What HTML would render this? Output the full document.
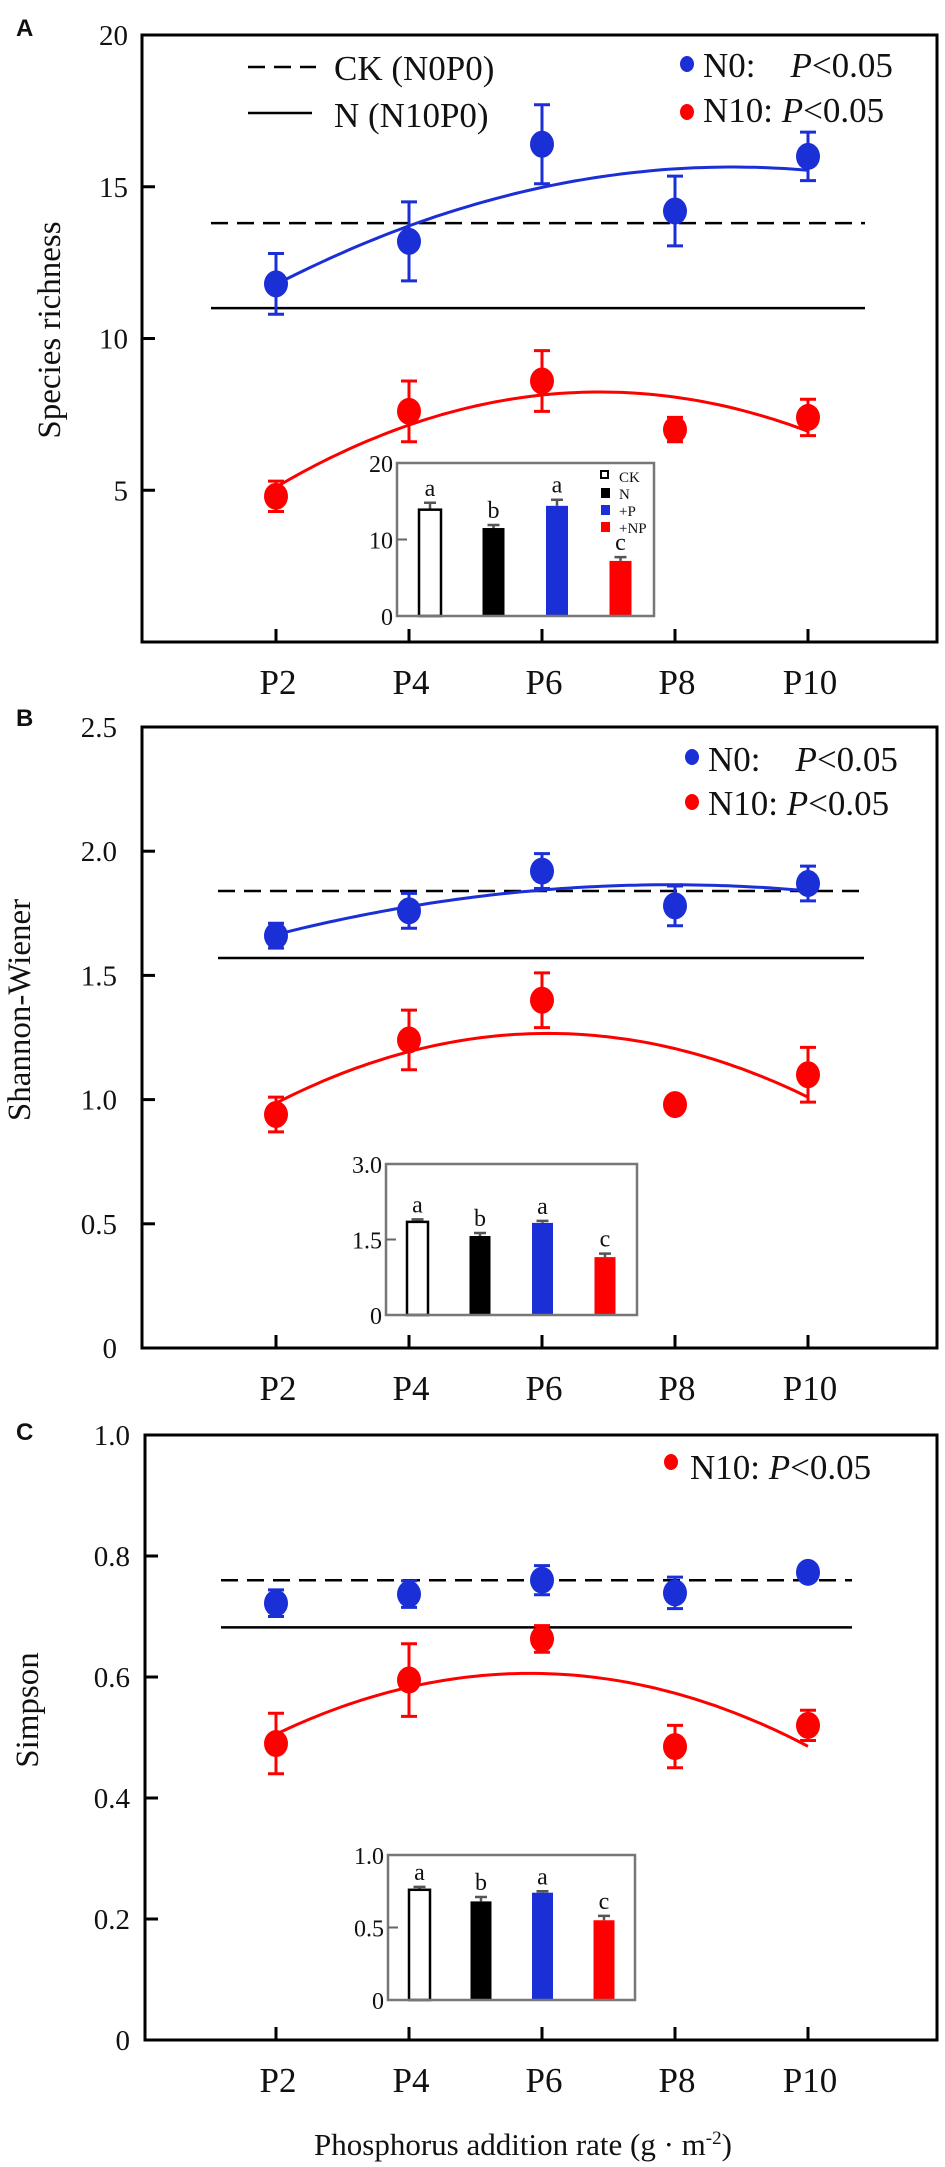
<!DOCTYPE html>
<html><head><meta charset="utf-8">
<style>
html,body{margin:0;padding:0;background:#fff;}
svg{display:block;}
text{font-family:"Liberation Serif",serif;fill:#111;}
.pl{font-family:"Liberation Sans",sans-serif;font-weight:bold;font-size:24px;}
</style></head>
<body>
<svg id="fig" width="945" height="2167" viewBox="0 0 945 2167" xmlns="http://www.w3.org/2000/svg"></svg>
<script>
// ---- shared categories ----
const categories = ["P2","P4","P6","P8","P10"];
const insetCats = ["CK","N","+P","+NP"];
const insetColors = ["#fff","#000","#1a2fd6","#ff0000"];

// ---- Panel A: species richness ----
const aYTicks = [5,10,15,20];
const aBlue = [11.8,13.2,16.4,14.2,16.0];
const aBlueErr = [1.0,1.3,1.3,1.15,0.8];
const aRed = [4.8,7.6,8.6,7.0,7.4];
const aRedErr = [0.5,1.0,1.0,0.4,0.6];
const aCK = 13.8, aN = 11.0;
const aInset = [13.9,11.5,14.4,7.2];
const aInsetErr = [0.9,0.4,0.8,0.5];
const aInsetLetters = ["a","b","a","c"];
const aInsetTicks = [0,10,20];

// ---- Panel B: Shannon-Wiener ----
const bYTicks = ["0","0.5","1.0","1.5","2.0","2.5"];
const bBlue = [1.66,1.76,1.92,1.78,1.87];
const bBlueErr = [0.05,0.07,0.07,0.08,0.07];
const bRed = [0.94,1.24,1.40,0.98,1.10];
const bRedErr = [0.07,0.12,0.11,0.0,0.11];
const bCK = 1.84, bN = 1.57;
const bInset = [1.85,1.57,1.83,1.15];
const bInsetErr = [0.05,0.06,0.04,0.07];
const bInsetLetters = ["a","b","a","c"];
const bInsetTicks = ["0","1.5","3.0"];

// ---- Panel C: Simpson ----
const cYTicks = ["0","0.2","0.4","0.6","0.8","1.0"];
const cBlue = [0.722,0.737,0.760,0.739,0.773];
const cBlueErr = [0.022,0.022,0.024,0.026,0.006];
const cRed = [0.490,0.595,0.663,0.485,0.520];
const cRedErr = [0.050,0.060,0.022,0.035,0.025];
const cCK = 0.76, cN = 0.682;
const cInset = [0.76,0.68,0.74,0.55];
const cInsetErr = [0.02,0.03,0.01,0.03];
const cInsetLetters = ["a","b","a","c"];
const cInsetTicks = ["0","0.5","1.0"];

const NS="http://www.w3.org/2000/svg";
const svg=document.getElementById('fig');
function mk(tag,attrs,parent,txt){const e=document.createElementNS(NS,tag);for(const k in attrs)e.setAttribute(k,attrs[k]);if(txt!==undefined)e.textContent=txt;(parent||svg).appendChild(e);return e;}
const BLUE="#1a2fd6", RED="#ff0000";

function quadFit(ys){ // fit y = a + b t + c t^2 with t=-2..2
  const t=[-2,-1,0,1,2];const n=5;const m=ys.reduce((s,v)=>s+v,0)/n;
  let sty=0,sqy=0;for(let i=0;i<n;i++){sty+=t[i]*ys[i];sqy+=(t[i]*t[i]-2)*ys[i];}
  const b=sty/10,c=sqy/14,a=m-2*c;return tt=>a+b*tt+c*tt*tt;
}

function panel(o){
  const g=mk('g',{},svg);
  
  
  const x=i=>276+133*i;
  const y=v=>o.bottom-(v-o.ymin)/(o.ymax-o.ymin)*(o.bottom-o.top);
  const pl=mk('text',{x:o.letterX,y:o.letterY,class:'pl'},g,o.letter);
  
  
  const fr=mk('rect',{x:o.left,y:o.top,width:o.right-o.left,height:o.bottom-o.top,fill:'none',stroke:'#000','stroke-width':3},g);
  
  
  o.yTicks.forEach(t=>{
    const v=parseFloat(t),yy=y(v);
    const tk=mk('line',{x1:o.left,x2:o.left+13,y1:yy,y2:yy,stroke:'#000','stroke-width':3},g);
    
    
    const tl=mk('text',{x:o.tickRight,y:yy+10,'text-anchor':'end','font-size':29},g,String(t));
    
    
  });
  categories.forEach((c,i)=>{
    const tk=mk('line',{x1:x(i),x2:x(i),y1:o.bottom,y2:o.bottom-13,stroke:'#000','stroke-width':3},g);
    
    
    const tl=mk('text',{x:x(i)+2,y:o.bottom+52,'text-anchor':'middle','font-size':35},g,c);
    
    
  });
  const yt=mk('text',{x:o.ytX,y:o.ytY,'text-anchor':'middle','font-size':33,transform:`rotate(-90 ${o.ytX} ${o.ytY})`},g,o.ytitle);
  
  
  const d=mk('line',{x1:o.refL,x2:o.refR,y1:y(o.ck),y2:y(o.ck),stroke:'#000','stroke-width':2.5,'stroke-dasharray':'17 9'},g);
  
  
  const s=mk('line',{x1:o.refL,x2:o.refR,y1:y(o.n),y2:y(o.n),stroke:'#000','stroke-width':2.5},g);
  
  
  o.series.forEach(se=>{
    if(se.fit){
      const f=quadFit(se.vals);let p='';
      for(let k=0;k<=80;k++){const tt=-2+4*k/80;const xx=276+133*(tt+2);p+=(k?'L':'M')+xx.toFixed(1)+' '+y(f(tt)).toFixed(1);}
      const cv=mk('path',{d:p,fill:'none',stroke:se.color,'stroke-width':3},g);
      
      
    }
    se.vals.forEach((v,i)=>{
      const e=se.err[i];
      if(e>0){
        const eb=mk('path',{d:`M${x(i)} ${y(v+e)}V${y(v-e)}M${x(i)-8} ${y(v+e)}H${x(i)+8}M${x(i)-8} ${y(v-e)}H${x(i)+8}`,stroke:se.color,'stroke-width':3,fill:'none'},g);
        
        
      }
      const pt=mk('ellipse',{cx:x(i),cy:y(v),rx:12,ry:13.5,fill:se.color},g);
      
      
    });
  });
  o.legend.forEach(l=>{
    const dot=mk('ellipse',{cx:l.dx,cy:l.dy,rx:7,ry:8,fill:l.color},g);
    
    
    const t=mk('text',{x:l.tx,y:l.ty,'font-size':35},g);
    
    
    mk('tspan',{},t,l.label);
    mk('tspan',{'font-style':'italic'},t,'P');
    mk('tspan',{},t,'<0.05');
  });
  const I=o.inset;
  const ig=mk('g',{},g);
  
  
  const iy=v=>I.bottom-v/I.max*(I.bottom-I.top);
  I.vals.forEach((v,i)=>{
    const bx=I.x0+I.step*i, e=I.err[i];
    const eb=mk('path',{d:`M${bx+I.w/2} ${iy(v)}V${iy(v+e)}M${bx+I.w/2-6} ${iy(v+e)}H${bx+I.w/2+6}`,stroke:'#555','stroke-width':2.5,fill:'none'},ig);
    
    
    const r=mk('rect',{x:bx,y:iy(v),width:I.w,height:I.bottom-iy(v),fill:insetColors[i],stroke:i===0?'#000':'none','stroke-width':2.5},ig);
    
    
    const lt=mk('text',{x:bx+I.w/2,y:iy(v+e)-7,'text-anchor':'middle','font-size':24},ig,I.letters[i]);
    
    
  });
  const ib=mk('rect',{x:I.left,y:I.top,width:I.right-I.left,height:I.bottom-I.top,fill:'none',stroke:'#777','stroke-width':2.5},ig);
  
  
  I.ticks.forEach((t,k)=>{
    const yy=iy(parseFloat(t));
    if(k===1){const tk=mk('line',{x1:I.left,x2:I.left+10,y1:yy,y2:yy,stroke:'#666','stroke-width':2},ig);
      
      }
    const tl=mk('text',{x:I.left-4,y:yy+9,'text-anchor':'end','font-size':24},ig,String(t));
    
    
  });
  if(I.legend){
    insetCats.forEach((c,i)=>{
      const yy=477+17*i;
      const sq=mk('rect',{x:601,y:yy-6,width:i===0?7:9,height:i===0?7:10,fill:insetColors[i],stroke:i===0?'#000':'none','stroke-width':2},ig);
      
      
      const tl=mk('text',{x:619,y:yy+5,'font-size':15,fill:'#444'},ig,c);
      
      
    });
  }
}

const SP3='N0:\u00a0\u00a0\u00a0\u00a0';
const SP1='N10:\u00a0';

panel({name:'panel-a-species-richness',letter:'A',letterX:16,letterY:36,
  left:142,right:937,top:35,bottom:642,ymin:0,ymax:20,yTicks:aYTicks,tickRight:128,
  ytitle:'Species richness',ytX:60,ytY:330,ck:aCK,n:aN,refL:211,refR:865,
  series:[{key:'n0',color:BLUE,vals:aBlue,err:aBlueErr,fit:true},{key:'n10',color:RED,vals:aRed,err:aRedErr,fit:true}],
  legend:[{color:BLUE,dx:687,dy:64,tx:703,ty:77,label:SP3},{color:RED,dx:687,dy:112,tx:703,ty:122,label:SP1}],
  inset:{left:397,right:654,top:463,bottom:616,max:20,x0:419,step:63.5,w:22,vals:aInset,err:aInsetErr,letters:aInsetLetters,ticks:aInsetTicks,legend:true}});

panel({name:'panel-b-shannon-wiener',letter:'B',letterX:16,letterY:726,
  left:142,right:937,top:727,bottom:1348,ymin:0,ymax:2.5,yTicks:bYTicks,tickRight:117,
  ytitle:'Shannon-Wiener',ytX:30,ytY:1010,ck:bCK,n:bN,refL:218,refR:864,
  series:[{key:'n0',color:BLUE,vals:bBlue,err:bBlueErr,fit:true},{key:'n10',color:RED,vals:bRed,err:bRedErr,fit:true}],
  legend:[{color:BLUE,dx:692,dy:757,tx:708,ty:771,label:SP3},{color:RED,dx:692,dy:802,tx:708,ty:815,label:SP1}],
  inset:{left:386,right:637,top:1164,bottom:1315,max:3,x0:407,step:62.5,w:21,vals:bInset,err:bInsetErr,letters:bInsetLetters,ticks:bInsetTicks,legend:false}});

panel({name:'panel-c-simpson',letter:'C',letterX:16,letterY:1440,
  left:145,right:937,top:1435,bottom:2040,ymin:0,ymax:1.0,yTicks:cYTicks,tickRight:130,
  ytitle:'Simpson',ytX:38,ytY:1710,ck:cCK,n:cN,refL:221,refR:852,
  series:[{key:'n0',color:BLUE,vals:cBlue,err:cBlueErr,fit:false},{key:'n10',color:RED,vals:cRed,err:cRedErr,fit:true}],
  legend:[{color:RED,dx:671,dy:1462,tx:690,ty:1479,label:SP1}],
  inset:{left:388,right:635,top:1855,bottom:2000,max:1,x0:409,step:61.5,w:21,vals:cInset,err:cInsetErr,letters:cInsetLetters,ticks:cInsetTicks,legend:false}});

const ll1=mk('line',{x1:248,x2:316,y1:67,y2:67,stroke:'#000','stroke-width':2.5,'stroke-dasharray':'17 9'});


const lt1=mk('text',{x:334,y:80,'font-size':35},svg,'CK (N0P0)');


const ll2=mk('line',{x1:248,x2:312,y1:113,y2:113,stroke:'#000','stroke-width':2.5});


const lt2=mk('text',{x:334,y:127,'font-size':35},svg,'N (N10P0)');



const xt=mk('text',{x:523,y:2155,'text-anchor':'middle','font-size':31},svg);


mk('tspan',{},xt,'Phosphorus addition rate (g · m');
mk('tspan',{'font-size':19,dy:-11},xt,'-2');
mk('tspan',{dy:11},xt,')');
</script>
</body></html>
